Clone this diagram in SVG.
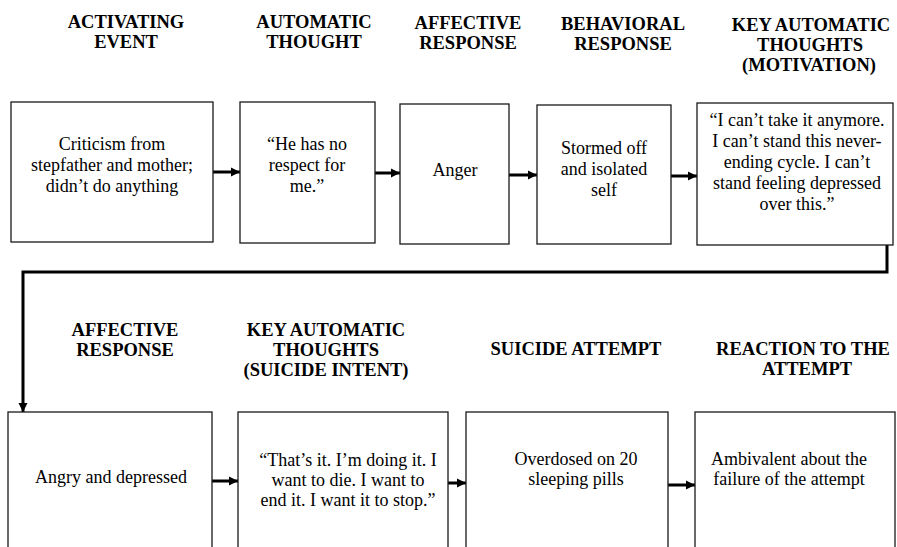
<svg xmlns="http://www.w3.org/2000/svg" width="897" height="547" viewBox="0 0 897 547">
  <style>
    .hd { font-family: "Liberation Serif", "Times New Roman", serif; font-size: 18.5px; font-weight: bold; fill: #000; text-anchor: middle; }
    .tx { font-family: "Liberation Serif", "Times New Roman", serif; font-size: 18px; fill: #000; text-anchor: middle; }
    .box { fill: #fff; stroke: #1a1a1a; stroke-width: 1.3; }
    .link { fill: none; stroke: #000; stroke-width: 3; }
  </style>
  <defs>
    <marker id="head" markerUnits="userSpaceOnUse" markerWidth="10" markerHeight="10" refX="9" refY="5" orient="auto">
      <path d="M0,0.5 L9,5 L0,9.5 z" fill="#000"/>
    </marker>
  </defs>
  <rect width="897" height="547" fill="#fff"/>

  <!-- column headings, top row -->
  <g id="headings-top">
    <text class="hd" x="126" y="28">ACTIVATING</text>
    <text class="hd" x="126" y="48">EVENT</text>
    <text class="hd" x="314" y="28">AUTOMATIC</text>
    <text class="hd" x="314" y="48">THOUGHT</text>
    <text class="hd" x="468" y="29">AFFECTIVE</text>
    <text class="hd" x="468" y="49">RESPONSE</text>
    <text class="hd" x="623" y="30">BEHAVIORAL</text>
    <text class="hd" x="623" y="50">RESPONSE</text>
    <text class="hd" x="811" y="31">KEY AUTOMATIC</text>
    <text class="hd" x="810" y="51">THOUGHTS</text>
    <text class="hd" x="809" y="71">(MOTIVATION)</text>
  </g>

  <!-- column headings, bottom row -->
  <g id="headings-bottom">
    <text class="hd" x="125" y="336">AFFECTIVE</text>
    <text class="hd" x="125" y="356">RESPONSE</text>
    <text class="hd" x="326" y="336">KEY AUTOMATIC</text>
    <text class="hd" x="326" y="356">THOUGHTS</text>
    <text class="hd" x="326" y="376">(SUICIDE INTENT)</text>
    <text class="hd" x="576" y="355">SUICIDE ATTEMPT</text>
    <text class="hd" x="803" y="355">REACTION TO THE</text>
    <text class="hd" x="807" y="375">ATTEMPT</text>
  </g>

  <!-- connectors -->
  <g id="connectors">
    <line class="link" x1="213" y1="172" x2="240" y2="172" marker-end="url(#head)"/>
    <line class="link" x1="375" y1="173" x2="400" y2="173" marker-end="url(#head)"/>
    <line class="link" x1="509" y1="175" x2="537" y2="175" marker-end="url(#head)"/>
    <line class="link" x1="671" y1="176" x2="697" y2="176" marker-end="url(#head)"/>
    <polyline class="link" points="887,245 887,272 23,272 23,412" marker-end="url(#head)"/>
    <line class="link" x1="212" y1="481" x2="238" y2="481" marker-end="url(#head)"/>
    <line class="link" x1="448" y1="483" x2="466" y2="483" marker-end="url(#head)"/>
    <line class="link" x1="668" y1="485" x2="695" y2="485" marker-end="url(#head)"/>
  </g>

  <!-- top row nodes -->
  <g id="activating-event">
    <rect class="box" x="11" y="102" width="202" height="140"/>
    <text class="tx" x="112" y="150">Criticism from</text>
    <text class="tx" x="112" y="171">stepfather and mother;</text>
    <text class="tx" x="112" y="192">didn’t do anything</text>
  </g>
  <g id="automatic-thought">
    <rect class="box" x="240" y="102" width="135" height="141"/>
    <text class="tx" x="307" y="150">“He has no</text>
    <text class="tx" x="307" y="171">respect for</text>
    <text class="tx" x="307" y="192">me.”</text>
  </g>
  <g id="affective-response-1">
    <rect class="box" x="400" y="104" width="109" height="140"/>
    <text class="tx" x="455" y="176">Anger</text>
  </g>
  <g id="behavioral-response">
    <rect class="box" x="537" y="105" width="134" height="139"/>
    <text class="tx" x="604" y="154">Stormed off</text>
    <text class="tx" x="604" y="175">and isolated</text>
    <text class="tx" x="604" y="196">self</text>
  </g>
  <g id="key-thoughts-motivation">
    <rect class="box" x="697" y="103" width="196" height="142"/>
    <text class="tx" x="797" y="126">“I can’t take it anymore.</text>
    <text class="tx" x="797" y="147">I can’t stand this never-</text>
    <text class="tx" x="797" y="168">ending cycle. I can’t</text>
    <text class="tx" x="797" y="189">stand feeling depressed</text>
    <text class="tx" x="797" y="210">over this.”</text>
  </g>

  <!-- bottom row nodes -->
  <g id="affective-response-2">
    <rect class="box" x="8" y="412" width="204" height="150"/>
    <text class="tx" x="111" y="483">Angry and depressed</text>
  </g>
  <g id="key-thoughts-intent">
    <rect class="box" x="238" y="412" width="210" height="150"/>
    <text class="tx" x="348" y="466">“That’s it. I’m doing it. I</text>
    <text class="tx" x="348" y="486">want to die. I want to</text>
    <text class="tx" x="348" y="506">end it. I want it to stop.”</text>
  </g>
  <g id="suicide-attempt">
    <rect class="box" x="466" y="412" width="202" height="150"/>
    <text class="tx" x="576" y="465">Overdosed on 20</text>
    <text class="tx" x="576" y="485">sleeping pills</text>
  </g>
  <g id="reaction">
    <rect class="box" x="695" y="412" width="200" height="150"/>
    <text class="tx" x="789" y="465">Ambivalent about the</text>
    <text class="tx" x="789" y="485">failure of the attempt</text>
  </g>
</svg>
